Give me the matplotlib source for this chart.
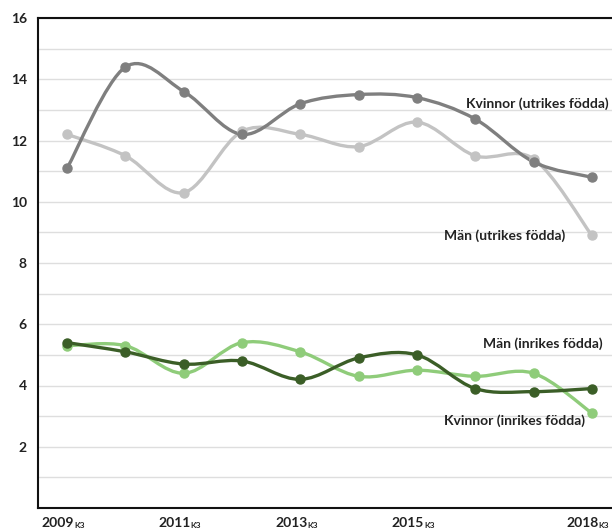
import numpy as np
import matplotlib.pyplot as plt
from matplotlib.path import Path
from matplotlib.patches import PathPatch

plt.rcParams['font.family'] = ['Lato', 'DejaVu Sans']
plt.rcParams['font.weight'] = 'bold'

quarters = ['2009K3', '2010K3', '2011K3', '2012K3', '2013K3',
            '2014K3', '2015K3', '2016K3', '2017K3', '2018K3']
tick_idx = [0, 2, 4, 6, 9]

kvinnor_utr = [11.1, 14.4, 13.6, 12.2, 13.2, 13.5, 13.4, 12.7, 11.3, 10.8]
man_utr = [12.2, 11.5, 10.3, 12.3, 12.2, 11.8, 12.6, 11.5, 11.4, 8.9]
man_inr = [5.4, 5.1, 4.7, 4.8, 4.2, 4.9, 5.0, 3.9, 3.8, 3.9]
kvinnor_inr = [5.3, 5.3, 4.4, 5.4, 5.1, 4.3, 4.5, 4.3, 4.4, 3.1]

series = [
    (man_utr, '#c3c3c3', 'Män (utrikes födda)', (8.55, 8.9)),
    (kvinnor_utr, '#7f7f7f', 'Kvinnor (utrikes födda)', (9.28, 13.2)),
    (kvinnor_inr, '#8fcc7a', 'Kvinnor (inrikes födda)', (8.88, 2.85)),
    (man_inr, '#3b5e27', 'Män (inrikes födda)', (9.18, 5.35)),
]


def smooth_path(x, y):
    # excel-like smoothed line: bezier segments with catmull-rom control points
    pts = np.column_stack([x, y]).astype(float)
    verts = [pts[0]]
    codes = [Path.MOVETO]
    n = len(pts)
    for i in range(n - 1):
        p0 = pts[i - 1] if i > 0 else pts[i]
        p1 = pts[i]
        p2 = pts[i + 1]
        p3 = pts[i + 2] if i + 2 < n else pts[i + 1]
        c1 = p1 + (p2 - p0) / 6.0
        c2 = p2 - (p3 - p1) / 6.0
        verts += [c1, c2, p2]
        codes += [Path.CURVE4] * 3
    return Path(verts, codes)


fig = plt.figure(figsize=(6.12, 5.31), dpi=100)
ax = fig.add_axes([38 / 612, 23 / 531, 583 / 612, 490 / 531])

x = np.arange(len(quarters))
for vals, col, label, pos in series:
    ax.add_patch(PathPatch(smooth_path(x, vals), fc='none', ec=col, lw=2.4,
                           capstyle='round', zorder=3))
    ax.plot(x, vals, 'o', color=col, ms=6.5, zorder=4)
    ax.text(pos[0], pos[1], label, ha='right', va='center', fontsize=10,
            fontweight='bold', color='#222222')

ax.set_xlim(-0.5, 9.5)
ax.set_ylim(0, 16)
ax.set_yticks(np.arange(2, 17, 2))
ax.set_yticks(np.arange(1, 16, 1), minor=True)
ax.grid(True, which='both', axis='y', color='#dedede', lw=1)
ax.set_axisbelow(True)

# x labels: year plus a small "K3" subscript
ax.set_xticks(tick_idx)
ax.set_xticklabels([])
for i in tick_idx:
    year, q = quarters[i][:4], quarters[i][4:]
    ax.annotate(year, xy=(i, 0), xycoords=('data', 'axes fraction'),
                xytext=(7, -19), textcoords='offset pixels', ha='right',
                va='baseline', fontsize=10, fontweight='bold', color='#222222',
                annotation_clip=False)
    ax.annotate(q, xy=(i, 0), xycoords=('data', 'axes fraction'),
                xytext=(7, -20), textcoords='offset pixels', ha='left',
                va='baseline', fontsize=6, fontweight='bold', color='#222222',
                annotation_clip=False)

ax.tick_params(length=0, which='both', labelsize=10, colors='#222222')
ax.tick_params(axis='y', pad=8)
for lab in ax.get_yticklabels():
    lab.set_fontweight('bold')
ax.spines['right'].set_visible(False)
for s in ['left', 'top', 'bottom']:
    ax.spines[s].set_linewidth(1.5)
    ax.spines[s].set_color('#111111')

fig.savefig('out.png', dpi=100)
